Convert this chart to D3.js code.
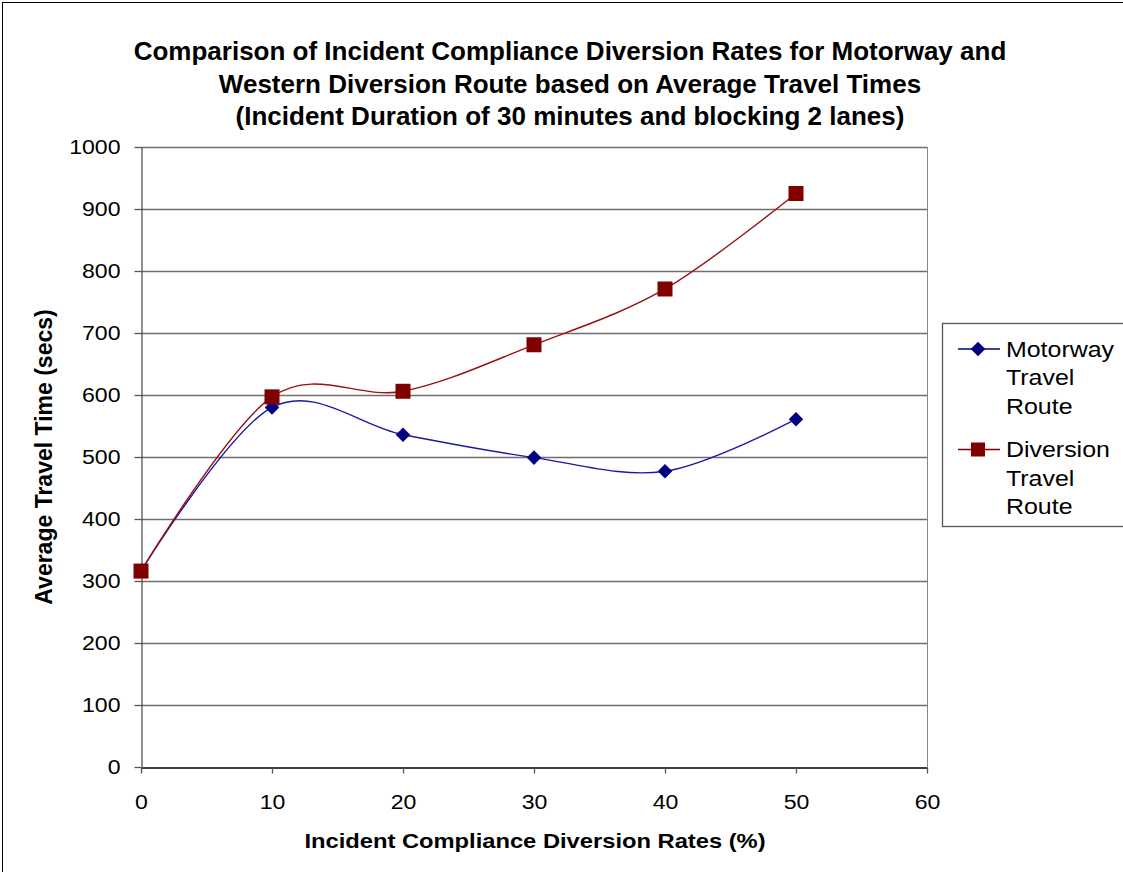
<!DOCTYPE html>
<html><head><meta charset="utf-8">
<script src="https://cdn.jsdelivr.net/npm/d3@7"></script>
<style>body{margin:0;background:#fff}svg{display:block}text{font-family:"Liberation Sans",Arial,sans-serif}</style>
</head><body>
<script>
const rates = [0, 10, 20, 30, 40, 50];
const motorway = [316, 580, 536, 499, 477, 561];
const diversion = [316, 597, 606, 681, 771, 925];
const xTicks = [0, 10, 20, 30, 40, 50, 60];
const yTicks = [0, 100, 200, 300, 400, 500, 600, 700, 800, 900, 1000];
const titleLines = ["Comparison of Incident Compliance Diversion Rates for Motorway and",
  "Western Diversion Route based on Average Travel Times",
  "(Incident Duration of 30 minutes and blocking 2 lanes)"];

const W = 1123, H = 872;
const svg = d3.select("body").append("svg").attr("width", W).attr("height", H);
svg.append("rect").attr("x", 2.5).attr("y", 2.5).attr("width", W + 10).attr("height", H + 10)
  .attr("fill", "#fff").attr("stroke", "#000").attr("stroke-width", 1);

function stretch(sel, sx) {
  sel.each(function () {
    const t = d3.select(this);
    const tx = +(t.attr("x") || 0), ty = +(t.attr("y") || 0);
    t.attr("x", 0).attr("y", 0).attr("transform", `translate(${tx},${ty}) scale(${sx},1)`);
  });
}

const L = 141, R = 927, T = 147, B = 767;
const x = d3.scaleLinear().domain([0, 60]).range([L, R]);
const y = d3.scaleLinear().domain([0, 1000]).range([B, T]);

// grid
svg.append("g").selectAll("line").data(yTicks.filter(d => d > 0)).join("line")
  .attr("x1", L).attr("x2", R).attr("y1", d => Math.round(y(d)) + 0.5).attr("y2", d => Math.round(y(d)) + 0.5)
  .attr("stroke", "#6e6e6e").attr("stroke-width", 1.3);
svg.append("line").attr("x1", R + 0.5).attr("x2", R + 0.5).attr("y1", T).attr("y2", B)
  .attr("stroke", "#888").attr("stroke-width", 1);

// axes
const xAxis = d3.axisBottom(x).tickValues(xTicks).tickSize(6).tickPadding(21).tickSizeOuter(0).tickFormat(d3.format("d"));
const gx = svg.append("g").attr("transform", `translate(0,${B + 0.5})`).call(xAxis);
gx.select(".domain").attr("stroke", "#000").attr("stroke-width", 1.3);
gx.selectAll(".tick line").attr("stroke", "#555").attr("stroke-width", 1.3);
gx.selectAll("text").attr("font-size", 21).attr("fill", "#000");
stretch(gx.selectAll("text"), 1.1);

const yAxis = d3.axisLeft(y).tickValues(yTicks).tickSize(7).tickPadding(14).tickSizeOuter(0).tickFormat(d3.format("d"));
const gy = svg.append("g").attr("transform", `translate(${L + 0.5},0)`).call(yAxis);
gy.select(".domain").attr("stroke", "#555").attr("stroke-width", 1.3);
gy.selectAll(".tick line").attr("stroke", "#555").attr("stroke-width", 1.3);
gy.selectAll("text").attr("font-size", 21).attr("fill", "#000");
stretch(gy.selectAll("text"), 1.1);

// lines
const line = d3.line().x((d, i) => x(rates[i])).y(d => y(d)).curve(d3.curveCardinal.tension(0));
const blue = "#000080", red = "#800000";
svg.append("path").datum(motorway).attr("d", line).attr("fill", "none").attr("stroke", "#1a1aa0").attr("stroke-width", 1.4);
svg.append("path").datum(diversion).attr("d", line).attr("fill", "none").attr("stroke", "#9a1010").attr("stroke-width", 1.4);

const dia = d3.symbol().type(d3.symbolDiamond2).size(135);
svg.append("g").selectAll("path").data(motorway).join("path")
  .attr("d", dia).attr("transform", (d, i) => `translate(${x(rates[i])},${y(d)})`).attr("fill", blue);
svg.append("g").selectAll("rect").data(diversion).join("rect")
  .attr("x", (d, i) => x(rates[i]) - 7.5).attr("y", d => y(d) - 7.5)
  .attr("width", 15).attr("height", 15).attr("fill", red);

// title
svg.append("g").selectAll("text").data(titleLines).join("text")
  .attr("x", 570).attr("y", (d, i) => 60 + i * 32.5).attr("text-anchor", "middle")
  .attr("font-size", 26).attr("font-weight", "bold").text(d => d);

const xt = svg.append("text").attr("x", 535).attr("y", 848).attr("text-anchor", "middle")
  .attr("font-size", 21).attr("font-weight", "bold").text("Incident Compliance Diversion Rates (%)");
stretch(xt, 1.13);
svg.append("text").attr("transform", "translate(52,457) rotate(-90)").attr("text-anchor", "middle")
  .attr("font-size", 23).attr("font-weight", "bold").text("Average Travel Time (secs)");

// legend
const lg = svg.append("g");
lg.append("rect").attr("x", 942.5).attr("y", 323.5).attr("width", 200).attr("height", 203)
  .attr("fill", "#fff").attr("stroke", "#555").attr("stroke-width", 1.3);
const items = [{name: ["Motorway", "Travel", "Route"], c: blue, s: "d"}, {name: ["Diversion", "Travel", "Route"], c: red, s: "s"}];
items.forEach((it, k) => {
  const y0 = 349 + k * 100.5;
  lg.append("line").attr("x1", 958).attr("x2", 1000).attr("y1", y0).attr("y2", y0).attr("stroke", it.c).attr("stroke-width", 1.4);
  if (it.s === "d") lg.append("path").attr("d", dia).attr("transform", `translate(978,${y0})`).attr("fill", it.c);
  else lg.append("rect").attr("x", 971).attr("y", y0 - 7).attr("width", 14).attr("height", 14).attr("fill", it.c);
  it.name.forEach((t, j) => {
    const tt = lg.append("text").attr("x", 1006).attr("y", y0 + 7.5 + j * 28.5).attr("font-size", 21.5).text(t);
    stretch(tt, 1.16);
  });
});
</script>
</body></html>
